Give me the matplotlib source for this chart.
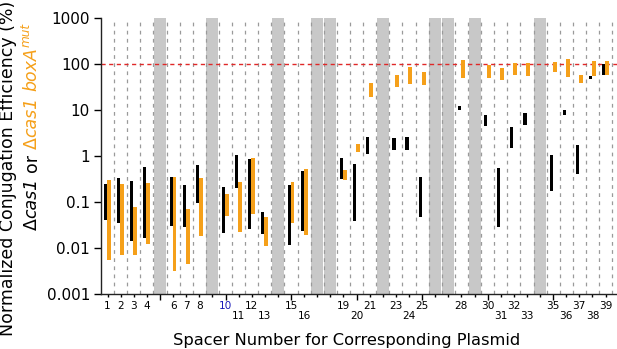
import matplotlib
matplotlib.use('Agg')
import matplotlib.pyplot as plt
import matplotlib.transforms as mtransforms
import numpy as np

# spacers with measurements
spacers = [1, 2, 3, 4, 6, 7, 8, 10, 11, 12, 13, 15, 16, 19, 20, 21, 23, 24, 25,
           28, 30, 31, 32, 33, 35, 36, 37, 38, 39]
# delta cas1 (black) range
cas1_lo = [0.04, 0.035, 0.014, 0.0168, 0.030, 0.0286, 0.094, 0.021, 0.197, 0.026, 0.0205,
           0.0118, 0.0234, 0.315, 0.038, 1.1, 1.33, 1.37, 0.048,
           10.1, 4.6, 0.0286, 1.47, 4.83, 0.175, 7.7, 0.40, 47.2, 58.7]
cas1_hi = [0.25, 0.34, 0.28, 0.57, 0.35, 0.23, 0.64, 0.21, 1.03, 0.87, 0.060,
           0.233, 0.48, 0.90, 0.68, 2.6, 2.5, 2.6, 0.35,
           12.4, 7.6, 0.54, 4.37, 8.7, 1.05, 9.9, 1.74, 55.8, 98.6]
# delta cas1 boxA mut (orange) range
box_lo = [0.0054, 0.0071, 0.0069, 0.0122, 0.0031, 0.0044, 0.018, 0.049, 0.0227, 0.056, 0.0108,
          0.0356, 0.0188, 0.294, 1.24, 19.4, 31, 36, 35,
          50.5, 49.6, 45.6, 57.7, 54, 66, 53, 38, 55, 56.7]
box_hi = [0.30, 0.245, 0.076, 0.257, 0.35, 0.07, 0.34, 0.153, 0.27, 0.90, 0.047,
          0.27, 0.52, 0.50, 1.8, 39, 56.8, 86, 67,
          123, 95, 80.7, 107, 104, 113, 131, 58.7, 117, 119]
# spacers without data (grey)
empty_spacers = [5, 9, 14, 17, 18, 22, 26, 27, 29, 34]

top_row = [1, 2, 3, 4, 6, 7, 8, 10, 12, 15, 19, 21, 23, 25, 28, 30, 32, 35, 37, 39]
bottom_row = [11, 13, 16, 20, 24, 31, 33, 36, 38]
blue_labels = [10]

ytick_vals = [0.001, 0.01, 0.1, 1, 10, 100, 1000]
ytick_labels = ['0.001', '0.01', '0.1', '1', '10', '100', '1000']

orange = '#f5a01a'

fig = plt.figure(figsize=(6.17, 3.49), dpi=100)
W, H = 617, 349
ax = fig.add_axes([101 / W, 55 / H, (617 - 101) / W, (294 - 18) / H])
ax.set_yscale('log')
ax.set_ylim(0.001, 1000)
ax.set_xlim(0.5, 39.87)

# grey bands for missing spacers
for p in empty_spacers:
    ax.axvspan(p - 0.46, p + 0.46, color='#c8c8c8', lw=0, zorder=0.5)

# dashed separators
for p in np.arange(1.5, 40, 1):
    ax.axvline(p, color='#9a9a9a', lw=0.9, ls=(0, (3, 3.5)), zorder=1)

ax.axhline(100, color='#e02828', lw=1.0, ls=(0, (3, 2.5)), zorder=2)

x = np.array(spacers, dtype=float)
lo = np.array(cas1_lo); hi = np.array(cas1_hi)
ax.bar(x - 0.15, hi - lo, bottom=lo, width=0.24, color='black', zorder=3)
lo = np.array(box_lo); hi = np.array(box_hi)
ax.bar(x + 0.11, hi - lo, bottom=lo, width=0.3, color=orange, zorder=4)

for s in ['top', 'right']:
    ax.spines[s].set_visible(False)
for s in ['left', 'bottom']:
    ax.spines[s].set_linewidth(1.0)
    ax.spines[s].set_color('#222222')

ax.set_yticks(ytick_vals)
ax.set_yticklabels(ytick_labels)
ax.yaxis.set_minor_locator(matplotlib.ticker.NullLocator())
ax.tick_params(axis='y', direction='out', length=5, width=1, pad=3, labelsize=11)

ax.set_xticks([p for p in range(5, 40, 5)])
ax.set_xticks([p for p in range(1, 40) if p % 5 != 0], minor=True)
ax.set_xticklabels([])
ax.tick_params(axis='x', which='major', direction='out', length=4, width=1)
ax.tick_params(axis='x', which='minor', direction='out', length=2.5, width=1)

# staggered spacer labels
base = ax.get_xaxis_transform()
for row, off in [(top_row, -15.3), (bottom_row, -25.3)]:
    tr = base + mtransforms.ScaledTranslation(0, off / 100, fig.dpi_scale_trans)
    for n in row:
        c = '#1a1ab8' if n in blue_labels else 'black'
        ax.text(n, 0, str(n), transform=tr, ha='center', va='baseline',
                fontsize=7.6, color=c)

fig.text(346.5 / W, 4 / H, 'Spacer Number for Corresponding Plasmid',
         ha='center', va='baseline', fontsize=11.7)

# y label line 1
fig.text(8.5 / W, 1 - 168.5 / H, 'Normalized Conjugation Efficiency (%)',
         rotation=90, ha='center', va='center', fontsize=12.5)

# y label line 2, built from coloured pieces
renderer = fig.canvas.get_renderer()
fs = 12.5
em = fs * 100 / 72
pieces = [
    ('Δ', 'black', 'normal', 1.0, 0.0, 0.0),
    ('cas1', 'black', 'italic', 1.0, 0.0, 0.0),
    ('or', 'black', 'normal', 1.0, 0.32, 0.0),
    ('Δ', orange, 'normal', 1.0, 0.32, 0.0),
    ('cas1', orange, 'italic', 1.0, 0.0, 0.0),
    ('boxA', orange, 'italic', 1.0, 0.32, 0.0),
    ('mut', orange, 'italic', 0.7, 0.05, 0.42),
]
bx = 36.5
by = H - 230
for txt, col, style, scale, gap, rise in pieces:
    by += gap * em
    t = fig.text(bx - rise * em, by, txt, rotation=90, rotation_mode='anchor',
                 ha='left', va='baseline', fontsize=fs * scale, color=col,
                 style=style, transform=mtransforms.IdentityTransform())
    bb = t.get_window_extent(renderer)
    by += bb.height

fig.savefig('out.png', dpi=100)
